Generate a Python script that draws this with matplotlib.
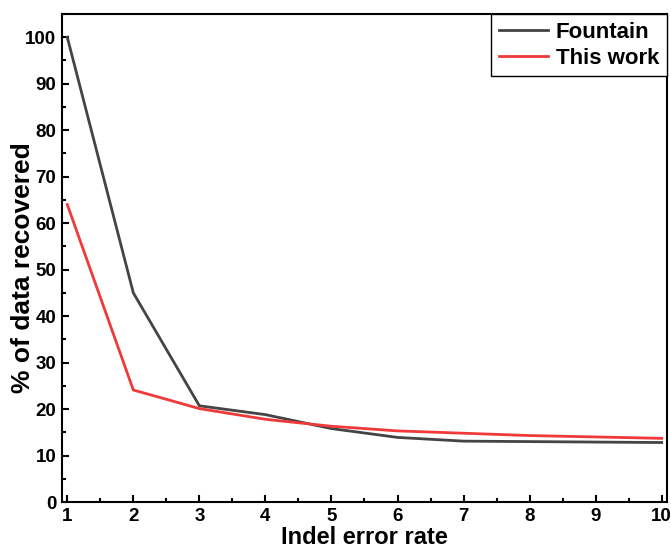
import matplotlib
matplotlib.use("Agg")
import matplotlib.pyplot as plt
from matplotlib.ticker import MultipleLocator

# === Данные ===
error_rate = [1, 2, 3, 4, 5, 6, 7, 8, 9, 10]
fountain = [100, 45, 20.7, 18.8, 15.8, 13.9, 13.1, 13.0, 12.9, 12.8]
this_work = [64, 24.1, 20.1, 17.8, 16.3, 15.3, 14.8, 14.3, 14.0, 13.7]

plt.rcParams['font.family'] = ['Liberation Sans', 'DejaVu Sans']
plt.rcParams['font.weight'] = 'bold'

fig = plt.figure(figsize=(6.71, 5.51), dpi=100)
ax = fig.add_axes([0.0924, 0.0889, 0.9016, 0.8857])

ax.plot(error_rate, fountain, color='#444444', lw=2, label='Fountain')
ax.plot(error_rate, this_work, color='#f03a3a', lw=2, label='This work')

ax.set_xlim(0.92, 10.08)
ax.set_ylim(0, 105)
ax.xaxis.set_major_locator(MultipleLocator(1))
ax.xaxis.set_minor_locator(MultipleLocator(0.5))
ax.yaxis.set_major_locator(MultipleLocator(10))
ax.yaxis.set_minor_locator(MultipleLocator(5))
ax.tick_params(which='both', direction='in', top=False, right=False, width=1.5, labelsize=13.5)
ax.tick_params(which='major', length=5, pad=4)
ax.tick_params(which='minor', length=3)
for s in ax.spines.values():
    s.set_linewidth(1.5)

ax.set_xlabel('Indel error rate', fontsize=17, fontweight='bold', labelpad=1)
ax.set_ylabel('% of data recovered', fontsize=19, fontweight='bold')
ax.yaxis.set_label_coords(-0.045, 0.48)

leg = ax.legend(loc='upper right', fontsize=16, fancybox=False, edgecolor='black',
                framealpha=1, borderaxespad=0, handlelength=2.2, borderpad=0.35,
                labelspacing=0.22, handletextpad=0.35)
leg.get_frame().set_linewidth(1)
for t in leg.get_texts():
    t.set_fontweight('bold')

plt.savefig('out.png', dpi=100)
